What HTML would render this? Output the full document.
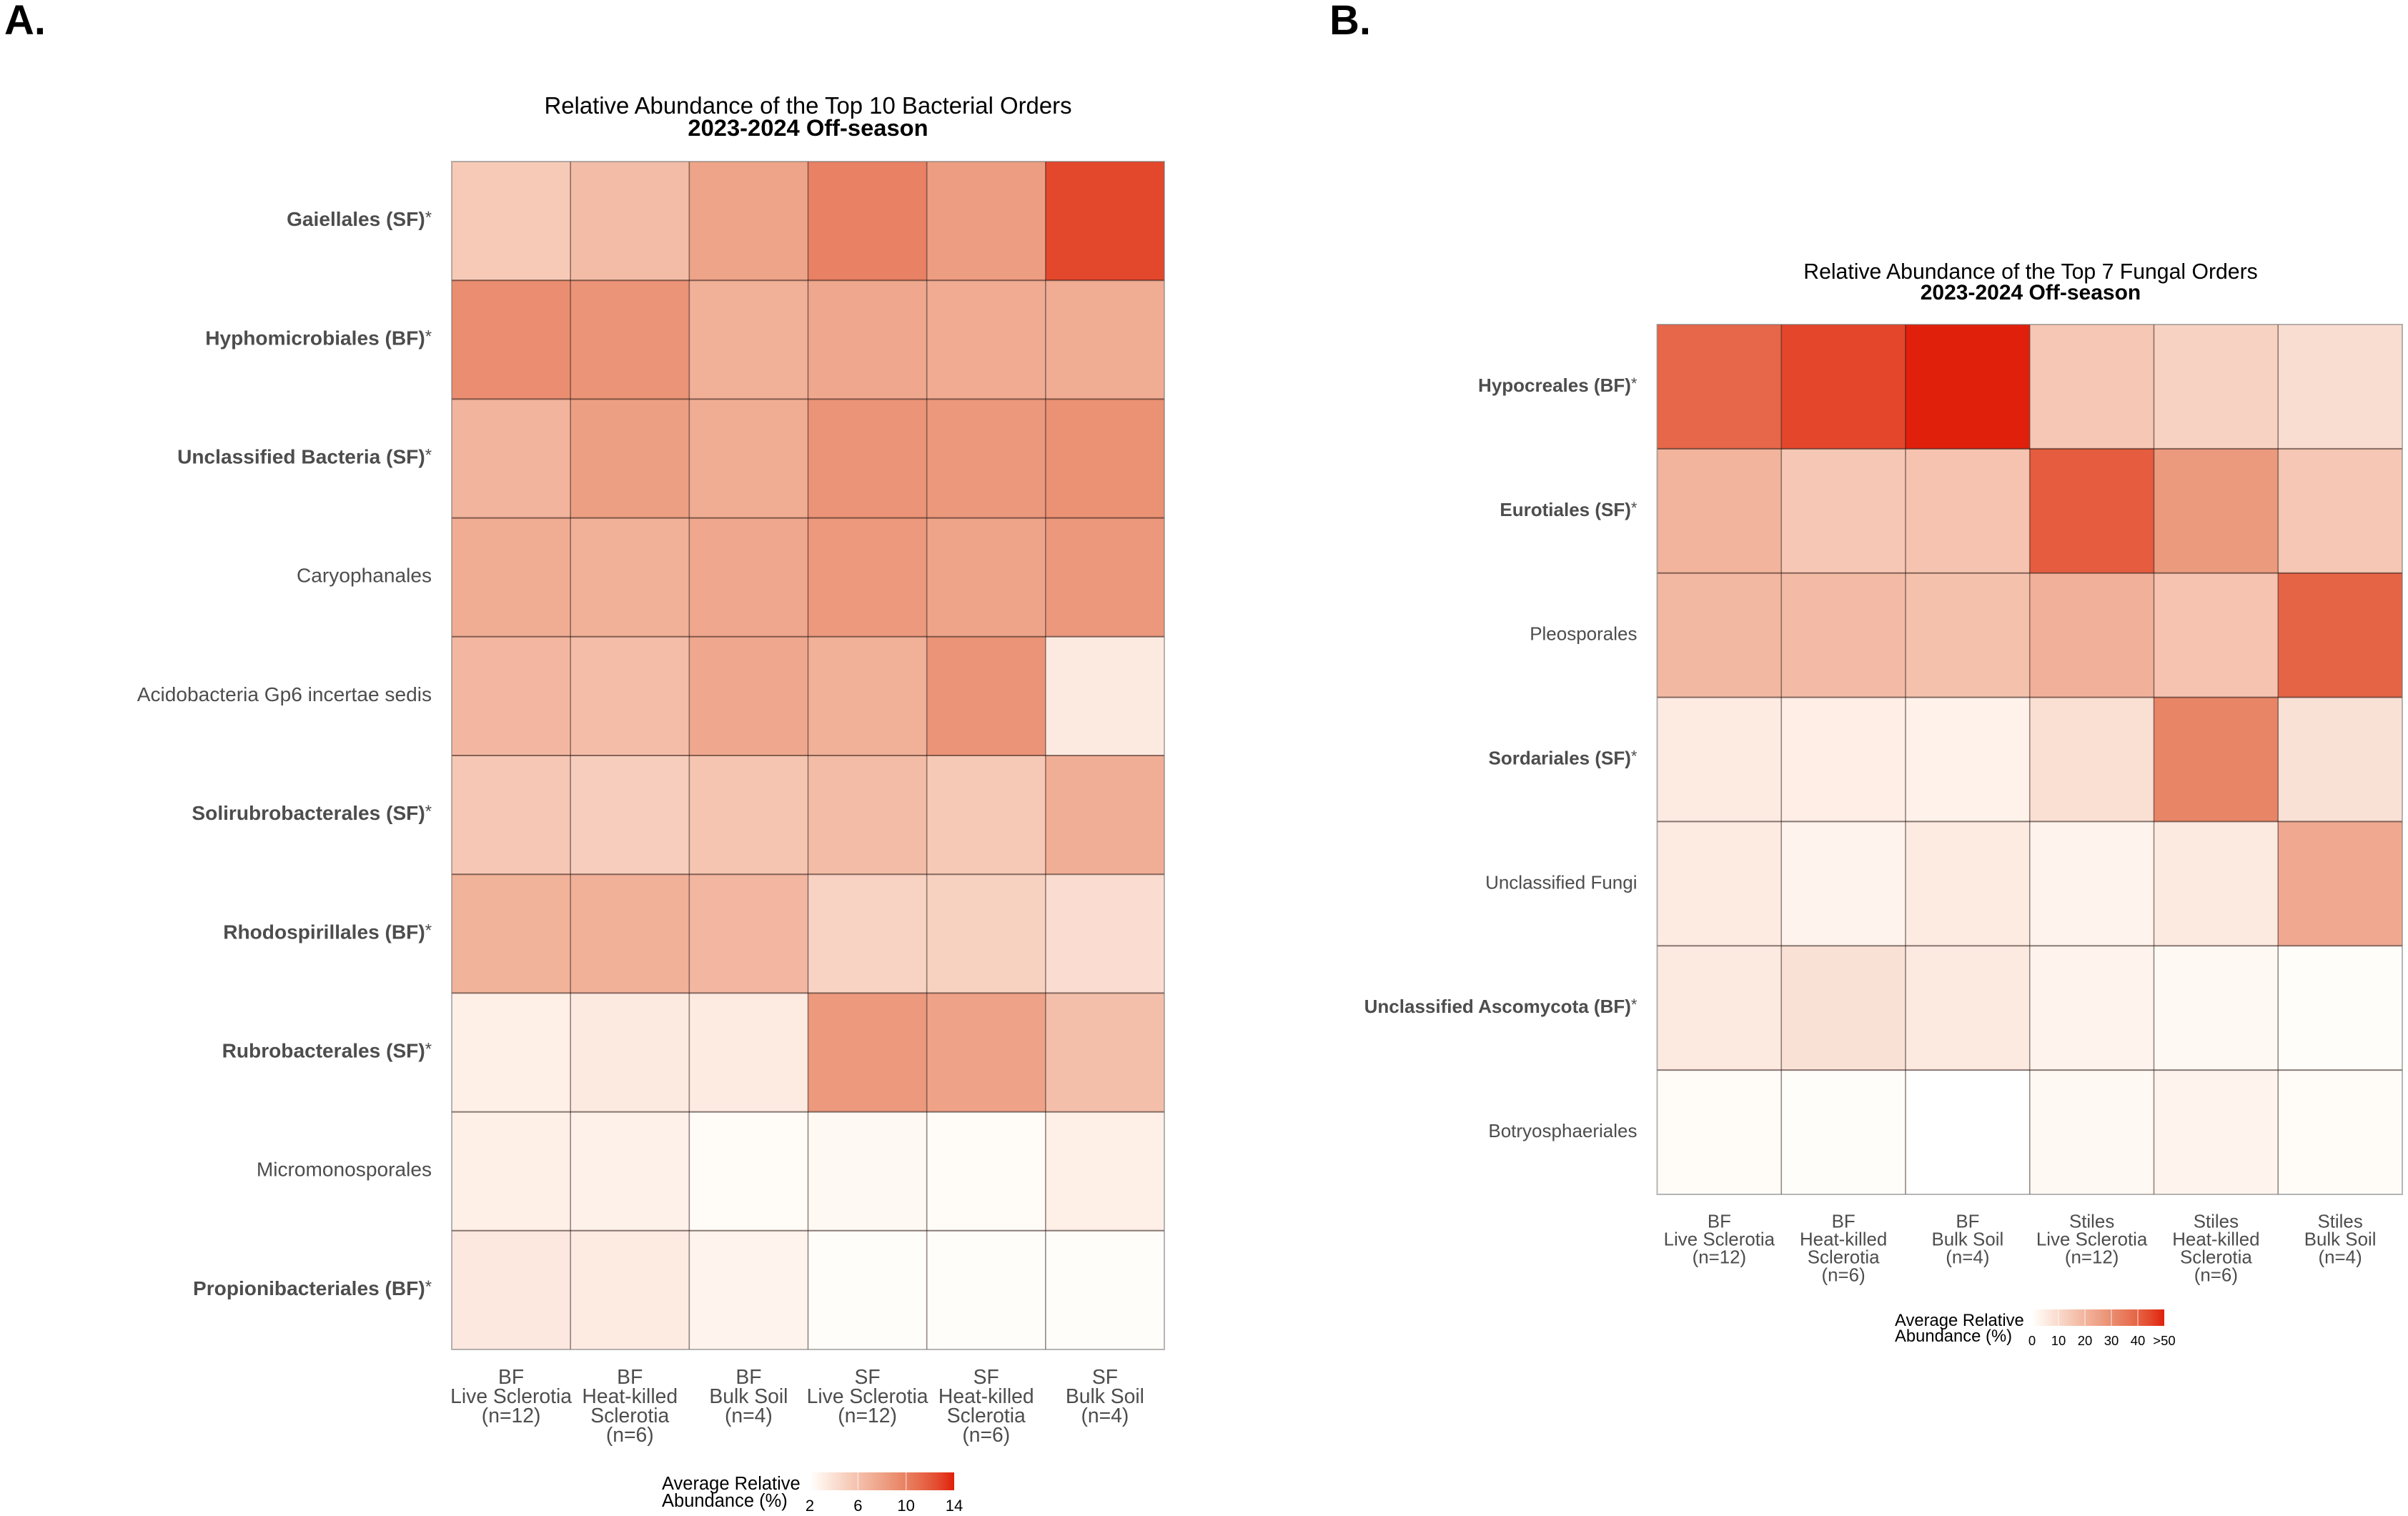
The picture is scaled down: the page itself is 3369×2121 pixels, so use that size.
<!DOCTYPE html>
<html lang="en">
<head>
<meta charset="utf-8">
<title>Relative Abundance Heatmaps</title>
<style>
html,body{margin:0;padding:0;background:#fff;}
body{width:3369px;height:2121px;overflow:hidden;}
svg{display:block;font-family:"Liberation Sans",Arial,sans-serif;}
</style>
</head>
<body>
<svg id="fig" xmlns="http://www.w3.org/2000/svg" width="3369" height="2121" viewBox="0 0 3369 2121">
  <rect x="0" y="0" width="3369" height="2121" fill="#ffffff"></rect>
  <text x="6" y="48" font-size="58" font-weight="700" fill="#000">A.</text>
  <text x="1860" y="48" font-size="58" font-weight="700" fill="#000">B.</text>
  <text x="1130.5" y="159" font-size="32.9" text-anchor="middle" fill="#000">Relative Abundance of the Top 10 Bacterial Orders</text>
  <text x="1130.5" y="190" font-size="32.7" font-weight="700" text-anchor="middle" fill="#000">2023-2024 Off-season</text>
  <text x="2841" y="390" font-size="30.2" text-anchor="middle" fill="#000">Relative Abundance of the Top 7 Fungal Orders</text>
  <text x="2841" y="419" font-size="30" font-weight="700" text-anchor="middle" fill="#000">2023-2024 Off-season</text>
  <g id="panelA"></g>
  <g id="panelB"></g>
  <text x="926" y="2084" font-size="25.5" fill="#000">Average Relative</text>
  <text x="926" y="2108" font-size="25.5" fill="#000">Abundance (%)</text>
  <text x="2651" y="1855" font-size="23.8" fill="#000">Average Relative</text>
  <text x="2651" y="1877" font-size="23.8" fill="#000">Abundance (%)</text>
</svg>
<script>
const categoriesA = ["BF|Live Sclerotia|(n=12)","BF|Heat-killed|Sclerotia|(n=6)","BF|Bulk Soil|(n=4)","SF|Live Sclerotia|(n=12)","SF|Heat-killed|Sclerotia|(n=6)","SF|Bulk Soil|(n=4)"];
const ordersA = ["Gaiellales (SF)*","Hyphomicrobiales (BF)*","Unclassified Bacteria (SF)*","Caryophanales","Acidobacteria Gp6 incertae sedis","Solirubrobacterales (SF)*","Rhodospirillales (BF)*","Rubrobacterales (SF)*","Micromonosporales","Propionibacteriales (BF)*"];
const valuesA = [
  [5.4,6.3,7.9,9.9,8.3,12.7],
  [9.2,8.8,7.1,7.6,7.4,7.3],
  [6.8,8.2,7.3,8.8,8.6,9.0],
  [7.3,7.1,7.7,8.5,7.9,8.6],
  [6.6,6.2,7.6,7.0,8.8,3.4],
  [5.6,5.1,5.7,6.3,5.5,7.2],
  [6.9,7.0,6.6,4.8,4.9,4.2],
  [3.0,3.4,3.3,8.5,8.0,6.1],
  [3.0,2.9,2.2,2.4,2.2,3.0],
  [3.5,3.3,2.7,2.1,2.1,2.1]
];
const legendTicksA = [2,6,10,14];
const legendLabelsA = ["2","6","10","14"];

const categoriesB = ["BF|Live Sclerotia|(n=12)","BF|Heat-killed|Sclerotia|(n=6)","BF|Bulk Soil|(n=4)","Stiles|Live Sclerotia|(n=12)","Stiles|Heat-killed|Sclerotia|(n=6)","Stiles|Bulk Soil|(n=4)"];
const ordersB = ["Hypocreales (BF)*","Eurotiales (SF)*","Pleosporales","Sordariales (SF)*","Unclassified Fungi","Unclassified Ascomycota (BF)*","Botryosphaeriales"];
const valuesB = [
  [39,45,50,15,12,9],
  [20,15,16,41,27,15],
  [19,18,16.5,21,16,39.5],
  [5.5,4.5,3.5,8.5,32,8],
  [5.5,3,5.5,3,6,23],
  [6,8,6,3,1.5,0.5],
  [0.7,0.5,0,1.5,3,0.7]
];
const legendTicksB = [0,10,20,30,40,50];
const legendLabelsB = ["0","10","20","30","40",">50"];

const scaleStops = [0,0.008,0.02,0.08,0.12,0.25,0.4,0.5,0.6,0.75,0.9,1];
const scaleColors = ["#FFFFFF","#FFFDF9","#FFFBF6","#FEF0E8","#FCE9E0","#F7D0BF","#F2B49D","#EEA287","#EA8D70","#E76F50","#E3462B","#E0200B"];

const NS = "http://www.w3.org/2000/svg";
function make(tag, attrs, parent){
  const n = document.createElementNS(NS, tag);
  for (const k in attrs) n.setAttribute(k, attrs[k]);
  parent.appendChild(n);
  return n;
}
function hexToRgb(h){ return [1,3,5].map(i => parseInt(h.substr(i,2),16)); }
function colorAt(t){
  t = Math.max(0, Math.min(1, t));
  for (let i = 1; i < scaleStops.length; i++){
    if (t <= scaleStops[i]){
      const f = (t - scaleStops[i-1]) / (scaleStops[i] - scaleStops[i-1]);
      const a = hexToRgb(scaleColors[i-1]), b = hexToRgb(scaleColors[i]);
      return "rgb(" + a.map((v,j) => Math.round(v + (b[j]-v)*f)).join(",") + ")";
    }
  }
  return scaleColors[scaleColors.length-1];
}

function drawHeatmap(group, prefix, cats, rows, vals, domain, box, fonts){
  const nCol = cats.length, nRow = rows.length;
  const xScale = i => box.left + i * (box.right - box.left) / nCol;
  const yScale = j => box.top + j * (box.bottom - box.top) / nRow;
  const fill = v => colorAt((v - domain[0]) / (domain[1] - domain[0]));

  vals.forEach((row, j) => {
    row.forEach((v, i) => {
      const cell = make("rect", {x:xScale(i), y:yScale(j), width:xScale(i+1)-xScale(i), height:yScale(j+1)-yScale(j), fill:fill(v)}, group);
      
      
    });
  });
  for (let i = 1; i < nCol; i++){
    const gl = make("line", {x1:xScale(i), x2:xScale(i), y1:box.top, y2:box.bottom, stroke:"rgba(40,20,15,0.5)", "stroke-width":1.6}, group);
    
    
  }
  for (let j = 1; j < nRow; j++){
    const gl = make("line", {x1:box.left, x2:box.right, y1:yScale(j), y2:yScale(j), stroke:"rgba(40,20,15,0.55)", "stroke-width":2}, group);
    
    
  }
  const frame = make("rect", {x:box.left, y:box.top, width:box.right-box.left, height:box.bottom-box.top, fill:"none", stroke:"rgba(110,110,110,0.5)", "stroke-width":2}, group);
  
  

  rows.forEach((label, j) => {
    const starred = label.endsWith("*");
    const t = make("text", {x:box.left - 28, y:(yScale(j)+yScale(j+1))/2 + fonts.rowShift, "text-anchor":"end", "font-size":fonts.row, fill:"#4d4d4d"}, group);
    
    
    if (starred){
      const b = make("tspan", {"font-weight":"700"}, t);
      b.textContent = label.slice(0, -1);
      const s = make("tspan", {"font-size":fonts.row*0.85, dy:-4}, t);
      s.textContent = "*";
    } else {
      t.textContent = label;
    }
  });

  cats.forEach((label, i) => {
    const cx = (xScale(i)+xScale(i+1))/2;
    label.split("|").forEach((line, k) => {
      const t = make("text", {x:cx, y:box.bottom + fonts.catTop + k*fonts.catStep, "text-anchor":"middle", "font-size":fonts.cat, fill:"#4d4d4d"}, group);
      
      
      t.textContent = line;
    });
  });
}

function drawLegend(group, prefix, ticks, labels, bar, fontSize, labelY){
  const legendX = v => bar.left + (v - ticks[0]) / (ticks[ticks.length-1] - ticks[0]) * (bar.right - bar.left);
  const defs = make("defs", {}, group);
  const grad = make("linearGradient", {id:prefix + "-grad", x1:0, x2:1, y1:0, y2:0}, defs);
  for (let p = 0; p <= 20; p++){
    make("stop", {offset:p/20, "stop-color":colorAt(p/20)}, grad);
  }
  const r = make("rect", {x:bar.left, y:bar.top, width:bar.right-bar.left, height:bar.bottom-bar.top, fill:"url(#" + prefix + "-grad)"}, group);
  
  
  ticks.forEach((v, i) => {
    if (i > 0 && i < ticks.length - 1){
      const tk = make("line", {x1:legendX(v), x2:legendX(v), y1:bar.top, y2:bar.bottom, stroke:"rgba(255,255,255,0.55)", "stroke-width":1.5}, group);
      
      
    }
    const t = make("text", {x:legendX(v), y:labelY, "text-anchor":"middle", "font-size":fontSize, fill:"#000"}, group);
    
    
    t.textContent = labels[i];
  });
}

const groupA = document.getElementById("panelA");
const groupB = document.getElementById("panelB");
drawHeatmap(groupA, "bacteria", categoriesA, ordersA, valuesA, [2,14], {left:632,right:1629,top:226,bottom:1888}, {row:28.1,rowShift:7,cat:28.3,catTop:48,catStep:27});
drawHeatmap(groupB, "fungi", categoriesB, ordersB, valuesB, [0,50], {left:2318.5,right:3361,top:454,bottom:1671}, {row:26,rowShift:7,cat:25.9,catTop:46.5,catStep:25});
drawLegend(groupA, "bacteria", legendTicksA, legendLabelsA, {left:1133,right:1335,top:2060,bottom:2085}, 22, 2114);
drawLegend(groupB, "fungi", legendTicksB, legendLabelsB, {left:2843,right:3028,top:1832,bottom:1855}, 18.5, 1882);
</script>
</body>
</html>
